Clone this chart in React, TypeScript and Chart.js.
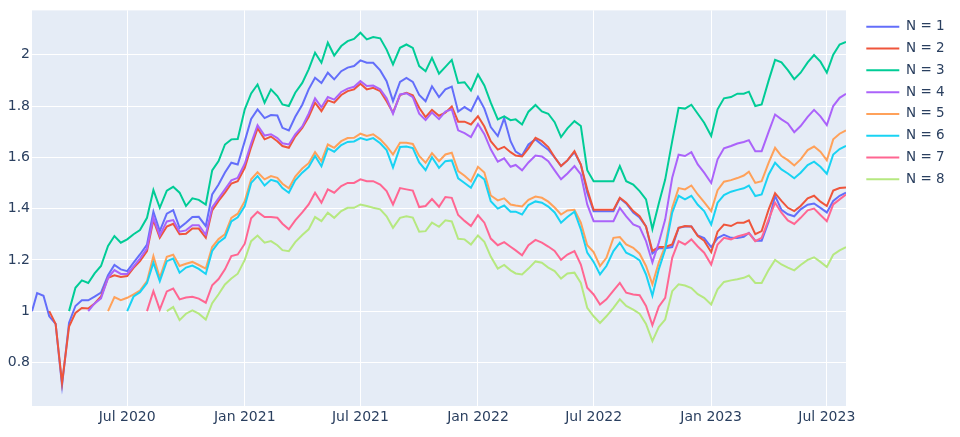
import React, { useEffect, useRef } from "react";
import { Chart, registerables } from "chart.js";

Chart.register(...registerables);

// ---- categories (sample dates, shared by every series) ----
const dates: string[] = [
  "2020-02-03", "2020-02-11", "2020-02-21", "2020-03-01", "2020-03-11", "2020-03-21",
  "2020-04-01", "2020-04-11", "2020-04-21", "2020-05-01", "2020-05-11", "2020-05-21",
  "2020-06-01", "2020-06-11", "2020-06-21", "2020-07-01", "2020-07-11", "2020-07-21",
  "2020-08-01", "2020-08-11", "2020-08-21", "2020-09-01", "2020-09-11", "2020-09-21",
  "2020-10-01", "2020-10-11", "2020-10-21", "2020-11-01", "2020-11-11", "2020-11-21",
  "2020-12-01", "2020-12-11", "2020-12-21",
  "2021-01-01", "2021-01-11", "2021-01-21", "2021-02-01", "2021-02-11", "2021-02-21",
  "2021-03-01", "2021-03-11", "2021-03-21", "2021-04-01", "2021-04-11", "2021-04-21",
  "2021-05-01", "2021-05-11", "2021-05-21", "2021-06-01", "2021-06-11", "2021-06-21",
  "2021-07-01", "2021-07-11", "2021-07-21", "2021-08-01", "2021-08-11", "2021-08-21",
  "2021-09-01", "2021-09-11", "2021-09-21", "2021-10-01", "2021-10-11", "2021-10-21",
  "2021-11-01", "2021-11-11", "2021-11-21", "2021-12-01", "2021-12-11", "2021-12-21",
  "2022-01-01", "2022-01-11", "2022-01-21", "2022-02-01", "2022-02-11", "2022-02-21",
  "2022-03-01", "2022-03-11", "2022-03-21", "2022-04-01", "2022-04-11", "2022-04-21",
  "2022-05-01", "2022-05-11", "2022-05-21", "2022-06-01", "2022-06-11", "2022-06-21",
  "2022-07-01", "2022-07-11", "2022-07-21", "2022-08-01", "2022-08-11", "2022-08-21",
  "2022-09-01", "2022-09-11", "2022-09-21", "2022-10-01", "2022-10-11", "2022-10-21",
  "2022-11-01", "2022-11-11", "2022-11-21", "2022-12-01", "2022-12-11", "2022-12-21",
  "2023-01-01", "2023-01-11", "2023-01-21", "2023-02-01", "2023-02-11", "2023-02-21",
  "2023-03-01", "2023-03-11", "2023-03-21", "2023-04-01", "2023-04-11", "2023-04-21",
  "2023-05-01", "2023-05-11", "2023-05-21", "2023-06-01", "2023-06-11", "2023-06-21",
  "2023-07-01", "2023-07-11", "2023-07-21", "2023-07-31",
];

const seriesLabels = ["N = 1", "N = 2", "N = 3", "N = 4", "N = 5", "N = 6", "N = 7", "N = 8"];
const seriesColors = ["#636efa", "#EF553B", "#00cc96", "#ab63fa", "#FFA15A", "#19d3f3", "#FF6692", "#B6E880"];

// ---- series values (null = series not started yet) ----
const n1 = [
  1.0, 1.07, 1.06, 0.98, 0.95, 0.71, 0.955, 1.02, 1.042, 1.042, 1.057, 1.072, 1.14, 1.18, 1.163, 1.156, 1.189, 1.221, 1.26, 1.388, 1.312, 1.38, 1.394, 1.325, 1.345, 1.367, 1.368, 1.332, 1.455, 1.494, 1.541, 1.579, 1.572,
  1.663, 1.75, 1.787, 1.753, 1.765, 1.763, 1.715, 1.705, 1.758, 1.805, 1.865, 1.91, 1.89, 1.93, 1.904, 1.936, 1.95, 1.956, 1.978, 1.969, 1.969, 1.939, 1.897, 1.819, 1.894, 1.91, 1.894, 1.843, 1.819, 1.877, 1.835, 1.865, 1.876, 1.778, 1.796, 1.78,
  1.836, 1.79, 1.718, 1.683, 1.752, 1.663, 1.622, 1.607, 1.65, 1.67, 1.649, 1.63, 1.6, 1.566, 1.588, 1.62, 1.572, 1.462, 1.39, 1.39, 1.39, 1.39, 1.44, 1.42, 1.385, 1.365, 1.33, 1.225, 1.245, 1.245, 1.25, 1.325, 1.33, 1.33, 1.295, 1.285,
  1.25, 1.285, 1.298, 1.286, 1.285, 1.29, 1.305, 1.275, 1.275, 1.35, 1.45, 1.395, 1.378, 1.37, 1.397, 1.415, 1.42, 1.403, 1.385, 1.43, 1.45, 1.462,
];
const n2 = [
  null, null, null, 1.0, 0.95, 0.72, 0.94, 0.993, 1.012, 1.01, 1.03, 1.057, 1.13, 1.14, 1.133, 1.137, 1.169, 1.195, 1.234, 1.355, 1.286, 1.33, 1.341, 1.3, 1.302, 1.322, 1.322, 1.286, 1.393, 1.43, 1.462, 1.498, 1.507,
  1.559, 1.64, 1.713, 1.67, 1.681, 1.663, 1.644, 1.637, 1.681, 1.715, 1.757, 1.813, 1.78, 1.822, 1.813, 1.843, 1.858, 1.865, 1.887, 1.865, 1.871, 1.858, 1.819, 1.774, 1.843, 1.852, 1.842, 1.793, 1.757, 1.785, 1.762, 1.774, 1.798, 1.739, 1.739, 1.728,
  1.76, 1.72, 1.663, 1.63, 1.641, 1.62, 1.607, 1.603, 1.635, 1.676, 1.663, 1.64, 1.6, 1.566, 1.588, 1.624, 1.572, 1.475, 1.395, 1.395, 1.395, 1.395, 1.442, 1.423, 1.39, 1.37, 1.33, 1.235, 1.25, 1.25, 1.26, 1.325, 1.332, 1.33, 1.293, 1.275,
  1.23, 1.31, 1.338, 1.332, 1.345, 1.345, 1.354, 1.3, 1.312, 1.397, 1.46, 1.43, 1.403, 1.39, 1.41, 1.44, 1.45, 1.427, 1.41, 1.47, 1.48, 1.482,
];
const n3 = [
  null, null, null, null, null, null, 1.0, 1.091, 1.12, 1.11, 1.147, 1.176, 1.254, 1.293, 1.267, 1.28, 1.3, 1.316, 1.364, 1.472, 1.403, 1.47, 1.485, 1.462, 1.41, 1.44, 1.434, 1.416, 1.549, 1.585, 1.65, 1.67, 1.671,
  1.787, 1.849, 1.884, 1.813, 1.865, 1.839, 1.806, 1.8, 1.852, 1.89, 1.943, 2.008, 1.969, 2.047, 1.997, 2.034, 2.053, 2.062, 2.086, 2.06, 2.069, 2.064, 2.02, 1.962, 2.027, 2.04, 2.027, 1.956, 1.936, 1.988, 1.926, 1.953, 1.98, 1.89, 1.893, 1.86,
  1.923, 1.88, 1.813, 1.748, 1.76, 1.745, 1.748, 1.728, 1.778, 1.804, 1.779, 1.77, 1.737, 1.679, 1.713, 1.741, 1.722, 1.55, 1.507, 1.507, 1.507, 1.507, 1.566, 1.507, 1.494, 1.468, 1.436, 1.32, 1.42, 1.513, 1.663, 1.793, 1.79, 1.805, 1.77, 1.735,
  1.683, 1.787, 1.83, 1.835, 1.848, 1.848, 1.856, 1.8, 1.806, 1.9, 1.98, 1.97, 1.94, 1.905, 1.93, 1.97, 1.999, 1.973, 1.93, 2.0, 2.04, 2.05,
];
const n4 = [
  null, null, null, null, null, null, null, null, null, 1.0, 1.03, 1.05, 1.13, 1.16, 1.145, 1.145, 1.175, 1.205, 1.245, 1.365, 1.295, 1.35, 1.355, 1.31, 1.315, 1.335, 1.335, 1.298, 1.405, 1.44, 1.475, 1.51, 1.52,
  1.575, 1.655, 1.725, 1.685, 1.69, 1.675, 1.655, 1.65, 1.69, 1.72, 1.77, 1.83, 1.795, 1.835, 1.825, 1.855, 1.868, 1.875, 1.897, 1.878, 1.88, 1.865, 1.83, 1.77, 1.845, 1.85, 1.835, 1.77, 1.745, 1.775, 1.749, 1.778, 1.787, 1.705, 1.694, 1.679,
  1.73, 1.69, 1.631, 1.583, 1.596, 1.563, 1.57, 1.549, 1.58, 1.607, 1.603, 1.585, 1.549, 1.514, 1.537, 1.566, 1.533, 1.416, 1.351, 1.351, 1.351, 1.351, 1.403, 1.37, 1.338, 1.328, 1.273, 1.19, 1.267, 1.357, 1.52, 1.61, 1.605, 1.62, 1.572, 1.54,
  1.5, 1.592, 1.635, 1.644, 1.654, 1.66, 1.667, 1.624, 1.624, 1.7, 1.767, 1.748, 1.732, 1.698, 1.722, 1.758, 1.785, 1.76, 1.726, 1.8, 1.832, 1.848,
];
const n5 = [
  null, null, null, null, null, null, null, null, null, null, null, null, 1.0, 1.055, 1.043, 1.052, 1.065, 1.08, 1.117, 1.215, 1.13, 1.212, 1.22, 1.176, 1.185, 1.192, 1.18, 1.166, 1.25, 1.281, 1.3, 1.364, 1.38,
  1.429, 1.514, 1.542, 1.514, 1.527, 1.52, 1.497, 1.479, 1.525, 1.556, 1.577, 1.62, 1.585, 1.65, 1.637, 1.663, 1.675, 1.676, 1.692, 1.683, 1.69, 1.67, 1.644, 1.611, 1.657, 1.657, 1.652, 1.605, 1.579, 1.616, 1.585, 1.611, 1.618, 1.546, 1.528, 1.506,
  1.563, 1.541, 1.451, 1.432, 1.44, 1.416, 1.412, 1.408, 1.434, 1.447, 1.442, 1.427, 1.404, 1.377, 1.393, 1.395, 1.345, 1.257, 1.23, 1.176, 1.208, 1.286, 1.289, 1.26, 1.247, 1.224, 1.176, 1.105, 1.189, 1.254, 1.403, 1.48, 1.475, 1.49, 1.455, 1.425,
  1.39, 1.472, 1.505, 1.511, 1.519, 1.529, 1.544, 1.5, 1.507, 1.579, 1.637, 1.605, 1.589, 1.568, 1.592, 1.628, 1.642, 1.622, 1.588, 1.67, 1.692, 1.705,
];
const n6 = [
  null, null, null, null, null, null, null, null, null, null, null, null, null, null, null, 1.0, 1.057, 1.074, 1.11, 1.189, 1.117, 1.195, 1.205, 1.15, 1.17, 1.178, 1.165, 1.145, 1.235, 1.268, 1.287, 1.35, 1.366,
  1.41, 1.5, 1.527, 1.49, 1.512, 1.505, 1.48, 1.462, 1.51, 1.54, 1.562, 1.605, 1.565, 1.635, 1.622, 1.648, 1.66, 1.662, 1.675, 1.668, 1.675, 1.655, 1.628, 1.56, 1.64, 1.642, 1.636, 1.58, 1.55, 1.6, 1.559, 1.585, 1.588, 1.518, 1.5, 1.481,
  1.533, 1.514, 1.429, 1.4, 1.412, 1.388, 1.388, 1.377, 1.414, 1.428, 1.423, 1.408, 1.385, 1.345, 1.367, 1.388, 1.319, 1.228, 1.192, 1.143, 1.176, 1.234, 1.267, 1.228, 1.215, 1.198, 1.143, 1.06, 1.163, 1.24, 1.384, 1.45, 1.436, 1.45, 1.415, 1.39,
  1.338, 1.423, 1.453, 1.466, 1.473, 1.479, 1.49, 1.449, 1.455, 1.533, 1.579, 1.553, 1.537, 1.518, 1.54, 1.57, 1.583, 1.563, 1.536, 1.611, 1.632, 1.645,
];
const n7 = [
  null, null, null, null, null, null, null, null, null, null, null, null, null, null, null, null, null, null, 1.0, 1.078, 1.006, 1.077, 1.088, 1.046, 1.053, 1.056, 1.049, 1.033, 1.101, 1.125, 1.163, 1.215, 1.221,
  1.263, 1.362, 1.387, 1.367, 1.367, 1.364, 1.341, 1.319, 1.354, 1.385, 1.416, 1.462, 1.423, 1.475, 1.462, 1.488, 1.5, 1.5, 1.514, 1.507, 1.507, 1.494, 1.468, 1.416, 1.48, 1.475, 1.47, 1.406, 1.41, 1.437, 1.407, 1.445, 1.442, 1.375, 1.352, 1.332,
  1.374, 1.345, 1.283, 1.257, 1.269, 1.251, 1.237, 1.218, 1.257, 1.278, 1.267, 1.252, 1.235, 1.2, 1.221, 1.234, 1.182, 1.091, 1.065, 1.026, 1.046, 1.08, 1.11, 1.072, 1.065, 1.062, 1.02, 0.945, 1.017, 1.052, 1.208, 1.273, 1.26, 1.28, 1.252, 1.228,
  1.182, 1.26, 1.286, 1.28, 1.291, 1.298, 1.304, 1.273, 1.286, 1.358, 1.423, 1.384, 1.354, 1.34, 1.364, 1.393, 1.4, 1.375, 1.351, 1.416, 1.436, 1.455,
];
const n8 = [
  null, null, null, null, null, null, null, null, null, null, null, null, null, null, null, null, null, null, null, null, null, 1.0, 1.016, 0.965, 0.99, 1.003, 0.99, 0.967, 1.031, 1.066, 1.104, 1.127, 1.146,
  1.2, 1.273, 1.295, 1.267, 1.273, 1.257, 1.238, 1.234, 1.269, 1.297, 1.319, 1.367, 1.351, 1.384, 1.364, 1.39, 1.403, 1.403, 1.416, 1.41, 1.403, 1.397, 1.37, 1.325, 1.364, 1.37, 1.365, 1.31, 1.312, 1.345, 1.329, 1.354, 1.35, 1.282, 1.28, 1.26,
  1.295, 1.27, 1.213, 1.166, 1.18, 1.159, 1.147, 1.143, 1.166, 1.194, 1.189, 1.17, 1.156, 1.127, 1.147, 1.15, 1.11, 1.013, 0.98, 0.954, 0.98, 1.013, 1.046, 1.02, 1.006, 0.99, 0.95, 0.883, 0.938, 0.967, 1.078, 1.105, 1.1, 1.09, 1.066, 1.052,
  1.026, 1.085, 1.114, 1.12, 1.124, 1.13, 1.139, 1.11, 1.11, 1.161, 1.2, 1.182, 1.17, 1.159, 1.18, 1.2, 1.21, 1.192, 1.172, 1.22, 1.237, 1.25,
];
const seriesValues: (number | null)[][] = [n1, n2, n3, n4, n5, n6, n7, n8];

// ---- tick labels ----
const xTickDates = ["2020-07-01", "2021-01-01", "2021-07-01", "2022-01-01", "2022-07-01", "2023-01-01", "2023-07-01"];
const xTickLabels = ["Jul 2020", "Jan 2021", "Jul 2021", "Jan 2022", "Jul 2022", "Jan 2023", "Jul 2023"];
const yTickValues = [0.8, 1, 1.2, 1.4, 1.6, 1.8, 2];
const yTickLabels = ["0.8", "1", "1.2", "1.4", "1.6", "1.8", "2"];

const X_MIN = "2020-02-03";
const X_MAX = "2023-07-31";
const Y_MIN = 0.63;
const Y_MAX = 2.173;

const FONT = '"DejaVu Sans", Verdana, sans-serif';
const TEXT = "#2a3f5f";

const plotBackground = {
  id: "plotBackground",
  beforeDraw(chart: any) {
    const { ctx, chartArea } = chart;
    if (!chartArea) return;
    ctx.save();
    ctx.fillStyle = "#E5ECF6";
    ctx.fillRect(chartArea.left, chartArea.top, chartArea.right - chartArea.left, chartArea.bottom - chartArea.top);
    ctx.restore();
  },
};

export default function App() {
  const ref = useRef<HTMLCanvasElement>(null);

  useEffect(() => {
    const canvas = ref.current;
    if (!canvas) return;
    const datasets = seriesValues.map((vals, k) => ({
      label: seriesLabels[k],
      data: dates
        .map((d, i) => ({ x: Date.parse(d), y: vals[i] }))
        .filter((p) => p.y !== null && p.y !== undefined),
      borderColor: seriesColors[k],
      backgroundColor: seriesColors[k],
      borderWidth: 2,
      pointRadius: 0,
      pointHoverRadius: 0,
      tension: 0,
      fill: false,
      order: seriesValues.length - k,
    }));

    const chart = new Chart(canvas, {
      type: "line",
      data: { datasets } as any,
      options: {
        responsive: false,
        animation: false,
        events: [],
        layout: { padding: { left: 0, top: 10, right: 10, bottom: 0 } },
        scales: {
          x: {
            type: "linear",
            min: Date.parse(X_MIN),
            max: Date.parse(X_MAX),
            afterBuildTicks: (s: any) => {
              s.ticks = xTickDates.map((d) => ({ value: Date.parse(d) }));
            },
            afterFit: (s: any) => {
              s.height = 31;
            },
            ticks: {
              autoSkip: false,
              maxRotation: 0,
              padding: 3,
              color: TEXT,
              font: { family: FONT, size: 14 },
              callback: (v: any) => {
                const i = xTickDates.findIndex((d) => Date.parse(d) === v);
                return i >= 0 ? xTickLabels[i] : "";
              },
            },
            grid: { color: "#ffffff", lineWidth: 1, drawTicks: false },
            border: { display: false },
          },
          y: {
            type: "linear",
            min: Y_MIN,
            max: Y_MAX,
            afterBuildTicks: (s: any) => {
              s.ticks = yTickValues.map((v) => ({ value: v }));
            },
            afterFit: (s: any) => {
              s.width = 32;
            },
            ticks: {
              padding: 2,
              color: TEXT,
              font: { family: FONT, size: 14 },
              callback: (v: any) => {
                const i = yTickValues.findIndex((t) => Math.abs(t - v) < 1e-9);
                return i >= 0 ? yTickLabels[i] : "";
              },
            },
            grid: { color: "#ffffff", lineWidth: 1, drawTicks: false },
            border: { display: false },
          },
          yGap: {
            type: "linear",
            position: "right",
            display: true,
            afterFit: (s: any) => {
              s.width = 12;
            },
            ticks: { display: false },
            grid: { display: false, drawTicks: false },
            border: { display: false },
          },
        },
        plugins: {
          legend: {
            position: "right",
            align: "start",
            maxWidth: 92,
            title: { display: true, text: "", font: { size: 1 }, padding: { top: 0.5, bottom: 0 } },
            labels: {
              usePointStyle: true,
              pointStyle: "line",
              pointStyleWidth: 33,
              color: TEXT,
              font: { family: FONT, size: 13.5 },
              padding: 8.3,
              sort: (a: any, b: any) => a.datasetIndex - b.datasetIndex,
            },
          },
          tooltip: { enabled: false },
        },
      } as any,
      plugins: [plotBackground],
    });
    return () => chart.destroy();
  }, []);

  return (
    <div style={{ position: "absolute", left: 0, top: 0, width: 960, height: 437, background: "#ffffff" }}>
      <canvas ref={ref} width={960} height={437} style={{ display: "block" }} />
    </div>
  );
}
